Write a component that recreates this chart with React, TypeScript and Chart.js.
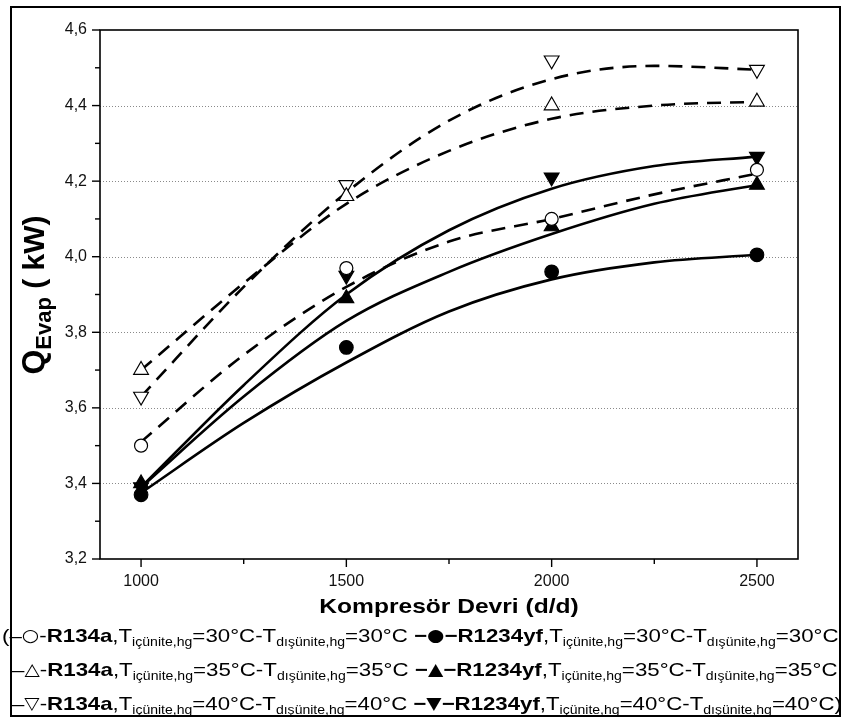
import React, { useEffect, useLayoutEffect, useRef } from 'react';
import { Chart, registerables } from 'chart.js';

Chart.register(...registerables);

// ---- data ----
const rpm = [1000, 1500, 2000, 2500];
const fitRpm = [1000, 1250, 1500, 1750, 2000, 2250, 2500];

const r134a30 = [3.5, 3.97, 4.1, 4.23];
const r134a35 = [3.7, 4.16, 4.4, 4.41];
const r134a40 = [3.63, 4.19, 4.52, 4.495];
const yf30 = [3.37, 3.76, 3.96, 4.005];
const yf35 = [3.4, 3.89, 4.08, 4.19];
const yf40 = [3.39, 3.95, 4.21, 4.265];

const fitR134a30 = [3.51, 3.74, 3.92, 4.04, 4.1, 4.165, 4.22];
const fitR134a35 = [3.7, 3.93, 4.14, 4.28, 4.365, 4.4, 4.41];
const fitR134a40 = [3.63, 3.92, 4.17, 4.36, 4.47, 4.505, 4.495];
const fitYf30 = [3.375, 3.56, 3.72, 3.855, 3.94, 3.985, 4.005];
const fitYf35 = [3.39, 3.63, 3.83, 3.96, 4.06, 4.14, 4.19];
const fitYf40 = [3.39, 3.66, 3.9, 4.07, 4.18, 4.24, 4.265];

const xTicks = [1000, 1500, 2000, 2500];
const xMinorTicks = [1250, 1750, 2250];
const yTicks = [3.2, 3.4, 3.6, 3.8, 4.0, 4.2, 4.4, 4.6];
const yMinorTicks = [3.3, 3.5, 3.7, 3.9, 4.1, 4.3, 4.5];
const yGrid = [3.4, 3.6, 3.8, 4.0, 4.2, 4.4];

const temps = ['30', '35', '40'];
const openSymbols = ['○', '△', '▽'];
const filledSymbols = ['●', '▲', '▼'];

const xTitle = 'Kompresör Devri (d/d)';

const FONT = '"Liberation Sans", Arial, Helvetica, sans-serif';

const pts = (xs: number[], ys: number[]) => xs.map((x, i) => ({ x, y: ys[i] }));

const axesPlugin = {
  id: 'axesDecor',
  beforeDatasetsDraw(chart: any) {
    const { ctx, chartArea, scales } = chart;
    const y = scales.y;
    ctx.save();
    ctx.strokeStyle = '#8a8a8a';
    ctx.lineWidth = 1;
    ctx.setLineDash([1, 2]);
    yGrid.forEach((v) => {
      const py = Math.round(y.getPixelForValue(v)) + 0.5;
      ctx.beginPath();
      ctx.moveTo(chartArea.left, py);
      ctx.lineTo(chartArea.right, py);
      ctx.stroke();
    });
    ctx.restore();
  },
  afterDatasetsDraw(chart: any) {
    const { ctx, chartArea, scales } = chart;
    const { left, right, top, bottom } = chartArea;
    const x = scales.x;
    const y = scales.y;
    ctx.save();
    ctx.strokeStyle = '#000';
    ctx.setLineDash([]);
    ctx.lineWidth = 1.6;
    ctx.strokeRect(left, top, right - left, bottom - top);
    ctx.lineWidth = 1.4;
    yTicks.forEach((v) => {
      const py = y.getPixelForValue(v);
      ctx.beginPath();
      ctx.moveTo(left, py);
      ctx.lineTo(left - 8, py);
      ctx.stroke();
    });
    yMinorTicks.forEach((v) => {
      const py = y.getPixelForValue(v);
      ctx.beginPath();
      ctx.moveTo(left, py);
      ctx.lineTo(left - 5, py);
      ctx.stroke();
    });
    xTicks.forEach((v) => {
      const px = x.getPixelForValue(v);
      ctx.beginPath();
      ctx.moveTo(px, bottom);
      ctx.lineTo(px, bottom + 8);
      ctx.stroke();
    });
    xMinorTicks.forEach((v) => {
      const px = x.getPixelForValue(v);
      ctx.beginPath();
      ctx.moveTo(px, bottom);
      ctx.lineTo(px, bottom + 5);
      ctx.stroke();
    });
    ctx.restore();
  },
};

function Sub({ base, sub }: { base: string; sub: string }) {
  return (
    <span>
      {base}
      <span style={{ fontSize: 12, position: 'relative', top: 4 }}>{sub}</span>
    </span>
  );
}

const symStyle: React.CSSProperties = { fontSize: 17, fontFamily: '"DejaVu Sans", sans-serif', position: 'relative', top: -1 };

function LegendRow({ i, lead, tail }: { i: number; lead: string; tail: string }) {
  const t = temps[i];
  return (
    <>
      {lead}
      <span>–</span>
      <span style={symStyle}>{openSymbols[i]}</span>
      <span>-</span>
      <b>R134a</b>,
      <Sub base="T" sub="içünite,hg" />={t}°C-
      <Sub base="T" sub="dışünite,hg" />={t}°C{' '}
      <b>−</b>
      <span style={symStyle}>{filledSymbols[i]}</span>
      <b>−R1234yf</b>,
      <Sub base="T" sub="içünite,hg" />={t}°C-
      <Sub base="T" sub="dışünite,hg" />={t}°C{tail}
    </>
  );
}

const rowLeft = [2, 12, 12];
const rowRight = [838, 838, 842];
const rowTop = [625, 659, 693];

export default function App() {
  const canvasRef = useRef<HTMLCanvasElement | null>(null);
  const rowRefs = useRef<(HTMLDivElement | null)[]>([]);

  useLayoutEffect(() => {
    rowRefs.current.forEach((el, i) => {
      if (!el) return;
      el.style.transform = 'none';
      const w = el.offsetWidth;
      const s = (rowRight[i] - rowLeft[i]) / w;
      el.style.transform = `scaleX(${s})`;
    });
  }, []);

  useEffect(() => {
    document.body.style.margin = '0';
    const canvas = canvasRef.current;
    if (!canvas) return;

    const markerBase = {
      showLine: false,
      pointBorderColor: '#000',
      pointBorderWidth: 1.2,
      pointHoverRadius: 0,
    };
    const lineBase = {
      borderColor: '#000',
      pointRadius: 0,
      pointHoverRadius: 0,
      fill: false,
      cubicInterpolationMode: 'monotone' as const,
    };
    const dashed = { ...lineBase, borderWidth: 2.6, borderDash: [14, 9] };
    const solid = { ...lineBase, borderWidth: 2.6 };

    const chart = new Chart(canvas, {
      type: 'line',
      data: {
        datasets: [
          { ...markerBase, label: 'R134a 30', data: pts(rpm, r134a30), pointStyle: 'circle', pointRadius: 6.5, pointBackgroundColor: '#fff' },
          { ...markerBase, label: 'R134a 35', data: pts(rpm, r134a35), pointStyle: 'triangle', pointRadius: 8.5, pointBackgroundColor: '#fff' },
          { ...markerBase, label: 'R134a 40', data: pts(rpm, r134a40), pointStyle: 'triangle', pointRotation: 180, pointRadius: 8.5, pointBackgroundColor: '#fff' },
          { ...markerBase, label: 'R1234yf 40', data: pts(rpm, yf40), pointStyle: 'triangle', pointRotation: 180, pointRadius: 8.5, pointBackgroundColor: '#000' },
          { ...markerBase, label: 'R1234yf 35', data: pts(rpm, yf35), pointStyle: 'triangle', pointRadius: 8.5, pointBackgroundColor: '#000' },
          { ...markerBase, label: 'R1234yf 30', data: pts(rpm, yf30), pointStyle: 'circle', pointRadius: 6.8, pointBackgroundColor: '#000' },
          { ...dashed, label: 'fit R134a 30', data: pts(fitRpm, fitR134a30) },
          { ...dashed, label: 'fit R134a 35', data: pts(fitRpm, fitR134a35) },
          { ...dashed, label: 'fit R134a 40', data: pts(fitRpm, fitR134a40) },
          { ...solid, label: 'fit R1234yf 30', data: pts(fitRpm, fitYf30) },
          { ...solid, label: 'fit R1234yf 35', data: pts(fitRpm, fitYf35) },
          { ...solid, label: 'fit R1234yf 40', data: pts(fitRpm, fitYf40) },
        ] as any,
      },
      options: {
        animation: false,
        responsive: false,
        devicePixelRatio: 1,
        events: [],
        layout: { padding: { left: 0, top: 30, right: 44, bottom: 131 } },
        plugins: { legend: { display: false }, tooltip: { enabled: false }, title: { display: false } },
        scales: {
          x: {
            type: 'linear',
            min: 900,
            max: 2600,
            afterBuildTicks: (s: any) => {
              s.ticks = xTicks.map((v) => ({ value: v }));
            },
            afterFit: (s: any) => {
              s.height = 30;
            },
            grid: { display: false, drawTicks: false },
            border: { display: false },
            ticks: {
              padding: 13,
              color: '#111',
              font: { family: FONT, size: 16 },
              callback: (v: any) => String(v),
            },
          },
          y: {
            type: 'linear',
            min: 3.2,
            max: 4.6,
            afterBuildTicks: (s: any) => {
              s.ticks = yTicks.map((v) => ({ value: v }));
            },
            afterFit: (s: any) => {
              s.width = 100;
            },
            grid: { display: false, drawTicks: false },
            border: { display: false },
            ticks: {
              padding: 13,
              color: '#111',
              font: { family: FONT, size: 16 },
              callback: (v: any) => Number(v).toFixed(1).replace('.', ','),
            },
          },
        },
      } as any,
      plugins: [axesPlugin],
    });
    return () => chart.destroy();
  }, []);

  const rowStyle: React.CSSProperties = {
    position: 'absolute',
    whiteSpace: 'nowrap',
    fontSize: 19,
    lineHeight: '22px',
    color: '#000',
    transformOrigin: '0 50%',
  };

  return (
    <div style={{ position: 'relative', width: 842, height: 720, background: '#fff', overflow: 'hidden', fontFamily: FONT }}>
      <canvas ref={canvasRef} width={842} height={720} style={{ position: 'absolute', left: 0, top: 0, width: 842, height: 720 }} />
      <div style={{ position: 'absolute', left: 10, top: 6, width: 831, height: 711, border: '2px solid #000', boxSizing: 'border-box', pointerEvents: 'none' }} />
      <div
        style={{
          position: 'absolute',
          left: 33,
          top: 295,
          transform: 'translate(-50%, -50%) rotate(-90deg)',
          whiteSpace: 'nowrap',
          fontWeight: 700,
          lineHeight: 1,
          color: '#000',
        }}
      >
        <span style={{ fontSize: 32 }}>Q</span>
        <span style={{ fontSize: 22, position: 'relative', top: 7 }}>Evap</span>
        <span style={{ fontSize: 30 }}> ( kW)</span>
      </div>
      <div
        style={{
          position: 'absolute',
          left: 449,
          top: 594,
          transform: 'translateX(-50%) scaleX(1.17)',
          whiteSpace: 'nowrap',
          fontWeight: 700,
          fontSize: 21,
          lineHeight: '24px',
        }}
      >
        {xTitle}
      </div>
      {[0, 1, 2].map((i) => (
        <div
          key={i}
          ref={(el) => {
            rowRefs.current[i] = el;
          }}
          style={{ ...rowStyle, left: rowLeft[i], top: rowTop[i] }}
        >
          <LegendRow i={i} lead={i === 0 ? '(' : ''} tail={i === 2 ? ')' : ''} />
        </div>
      ))}
    </div>
  );
}
